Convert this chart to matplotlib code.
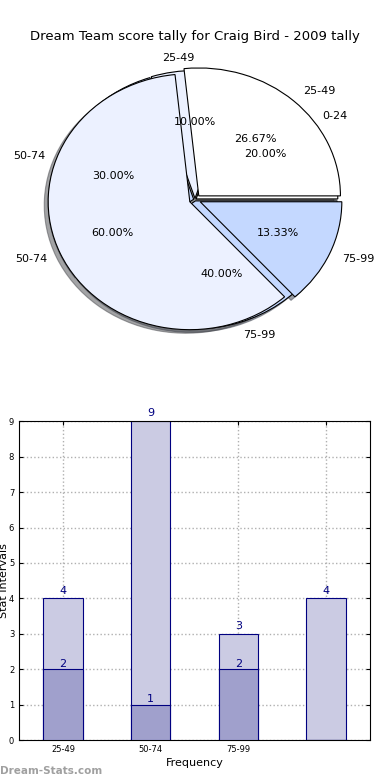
import matplotlib
matplotlib.use("Agg")
import matplotlib.pyplot as plt

plt.rcParams['font.family'] = ['DejaVu Sans']

# data
pie_a_labels = ['25-49', '50-74', '75-99']
pie_a_values = [4, 9, 2]
pie_b_labels = ['0-24', '25-49', '50-74', '75-99']
pie_b_values = [2, 1, 3, 4]

bar_labels = ['25-49', '50-74', '75-99', '']
light_vals = [4, 9, 3, 4]
dark_vals = [2, 1, 2, 0]

fig = plt.figure(figsize=(3.9, 7.8), dpi=100)
fig.suptitle('Dream Team score tally for Craig Bird - 2009 tally', fontsize=9.5, y=0.962)

# pie part (two pies laid over each other)
ax1 = fig.add_axes([0.046, 0.539, 0.908, 0.41])
ax1.pie(pie_b_values, labels=pie_b_labels, autopct='%.2f%%', shadow=True,
        colors=['white', '#ecf1ff', '#c4d8ff', '#c4d8ff'],
        explode=[0.01, 0.01, 0.01, 0.01],
        wedgeprops=dict(edgecolor='black', linewidth=0.8),
        textprops=dict(fontsize=8))
ax1.pie(pie_a_values, labels=pie_a_labels, autopct='%.2f%%', shadow=True,
        colors=['white', '#ecf1ff', '#c4d8ff'],
        explode=[0.04, 0.04, 0.04],
        wedgeprops=dict(edgecolor='black', linewidth=0.8),
        textprops=dict(fontsize=8))
ax1.set_aspect('auto')
ax1.set_xlim(-1.25, 1.25)
ax1.set_ylim(-1.25, 1.25)

# bar part
ax2 = fig.add_axes([0.049, 0.051, 0.9, 0.409])
x = range(len(bar_labels))
w = 0.45
b1 = ax2.bar(x, light_vals, width=w, color='#cbcbe3', edgecolor='#000080', linewidth=0.8, zorder=2)
b2 = ax2.bar(x, dark_vals, width=w, color='#a0a0cc', edgecolor='#000080', linewidth=0.8, zorder=3)
for bar, v in zip(b1, light_vals):
    ax2.text(bar.get_x() + bar.get_width() / 2, v + 0.08, str(v), ha='center', va='bottom',
             color='#000080', fontsize=8, zorder=4)
for bar, v in zip(b2, dark_vals):
    if v > 0:
        ax2.text(bar.get_x() + bar.get_width() / 2, v + 0.02, str(v), ha='center', va='bottom',
                 color='#000080', fontsize=8, zorder=4)

ax2.set_xlim(-0.5, 3.5)
ax2.set_ylim(0, 9)
ax2.set_xticks(list(x))
ax2.set_xticklabels(bar_labels)
ax2.set_yticks(range(0, 10))
ax2.tick_params(direction='in', labelsize=6, length=3, top=True, right=True)
ax2.grid(True, linestyle=':', color='#b0b0b0', linewidth=1, zorder=0)
ax2.set_axisbelow(True)
ax2.set_xlabel('Frequency', fontsize=8, labelpad=3)
ax2.set_ylabel('Stat Intervals', fontsize=8)
ax2.yaxis.set_label_coords(-0.028, 0.5)

fig.text(0.0, 0.008, 'Dream-Stats.com', fontsize=7.5, color='#a0a0a0', fontweight='bold')

fig.savefig('out.png', dpi=100)
